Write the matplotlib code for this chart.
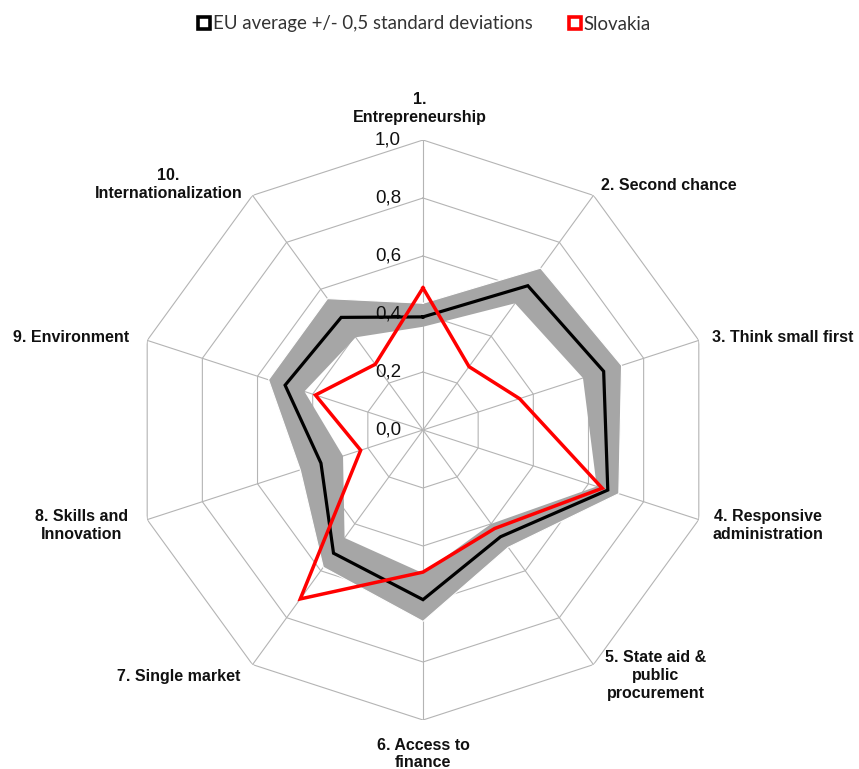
import numpy as np
import matplotlib
matplotlib.use("Agg")
import matplotlib.pyplot as plt
from matplotlib.path import Path
from matplotlib.patches import PathPatch
from matplotlib.lines import Line2D

categories = ["1.\nEntrepreneurship", "2. Second chance", "3. Think small first",
              "4. Responsive\nadministration", "5. State aid &\npublic\nprocurement",
              "6. Access to\nfinance", "7. Single market", "8. Skills and\nInnovation",
              "9. Environment", "10.\nInternationalization"]
eu_avg = [0.39, 0.615, 0.655, 0.67, 0.455, 0.585, 0.525, 0.37, 0.50, 0.48]
eu_upper = [0.437, 0.69, 0.72, 0.71, 0.50, 0.66, 0.585, 0.445, 0.56, 0.56]
eu_lower = [0.356, 0.54, 0.58, 0.63, 0.40, 0.494, 0.46, 0.29, 0.43, 0.395]
slovakia = [0.49, 0.27, 0.35, 0.65, 0.42, 0.49, 0.72, 0.226, 0.39, 0.28]
levels = [0.0, 0.2, 0.4, 0.6, 0.8, 1.0]
level_labels = ["0,0", "0,2", "0,4", "0,6", "0,8", "1,0"]
legend_labels = ["EU average +/- 0,5 standard deviations", "Slovakia"]

W, H = 859, 769
fig = plt.figure(figsize=(W / 100, H / 100), dpi=100)
cx, cy, R = 423, 430, 290
ax = fig.add_axes([(cx - R) / W, (H - cy - R) / H, 2 * R / W, 2 * R / H], projection="polar")
ax.set_theta_zero_location("N")
ax.set_theta_direction(-1)
ax.set_ylim(0, 1)
ax.grid(False)
ax.set_xticks([])
ax.set_yticks([])
ax.spines["polar"].set_visible(False)
ax.patch.set_visible(False)

n = len(categories)
theta = np.arange(n) * 2 * np.pi / n
tc = np.append(theta, theta[0])

def closed(v):
    v = list(v)
    return v + [v[0]]

grid_col = "#b4b4b4"
for lv in levels[1:]:
    ax.plot(tc, [lv] * (n + 1), color=grid_col, lw=0.8, zorder=1)
for t in theta:
    ax.plot([t, t], [0, 1], color=grid_col, lw=0.8, zorder=1)

for lv, lab in zip(levels, level_labels):
    ax.annotate(lab, xy=(0, lv), xytext=(-22, 0), textcoords="offset pixels",
                ha="right", va="center", fontsize=13.5, family="Liberation Sans",
                color="#111111", zorder=3.5)

# band between lower and upper
outer = np.column_stack([tc, closed(eu_upper)])
inner = np.column_stack([tc[::-1], closed(eu_lower)[::-1]])
verts = np.concatenate([outer, inner])
codes = ([Path.MOVETO] + [Path.LINETO] * (len(outer) - 2) + [Path.CLOSEPOLY]) * 2
band = PathPatch(Path(verts, codes), facecolor="#a6a6a6", edgecolor="none",
                 transform=ax.transData, zorder=3)
ax.add_patch(band)
ax.plot(tc, closed(eu_upper), color="white", lw=0.8, zorder=3.1)

ax.plot(tc, closed(eu_avg), color="black", lw=2.3, zorder=4, solid_joinstyle="miter")
ax.plot(tc, closed(slovakia), color="#ff0000", lw=2.5, zorder=5, solid_joinstyle="miter")

offsets = [(-3, 15, "center", "bottom"), (8, 10, "left", "center"), (13, 3, "left", "center"),
           (14, -6, "left", "center"), (62, -11, "center", "center"), (0, -34, "center", "center"),
           (-12, -12, "right", "center"), (-19, -6, "right", "center"), (-18, 3, "right", "center"),
           (-84, 11, "center", "center")]
for t, lab, (dx, dy, ha, va) in zip(theta, categories, offsets):
    ax.annotate(lab, xy=(t, 1.0), xytext=(dx, dy), textcoords="offset pixels",
                ha=ha, va=va, multialignment="center", fontsize=11.5, fontweight="bold",
                family="Liberation Sans", color="#111111", linespacing=1.22,
                annotation_clip=False)

handles = [Line2D([], [], ls="none", marker="s", ms=9, mew=2.6, mec="black", mfc="white"),
           Line2D([], [], ls="none", marker="s", ms=9, mew=2.6, mec="#ff0000", mfc="white")]
fig.legend(handles, legend_labels, loc="center", bbox_to_anchor=(424 / W, 1 - 24 / H),
           ncol=2, frameon=False, handlelength=0.75, handletextpad=0.1, columnspacing=1.9,
           prop={"family": "Lato", "size": 13.4}, labelcolor="#333333")

fig.savefig("out.png", dpi=100)
